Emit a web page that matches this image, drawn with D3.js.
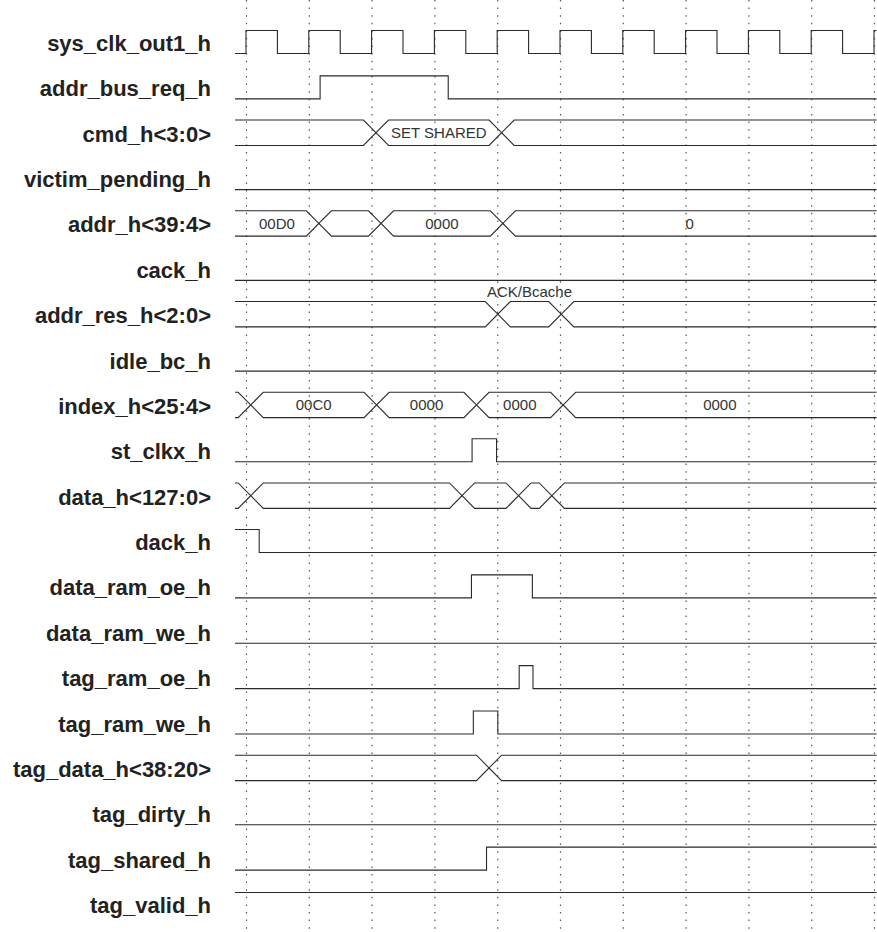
<!DOCTYPE html>
<html>
<head>
<meta charset="utf-8">
<script src="https://cdn.jsdelivr.net/npm/d3@7/dist/d3.min.js"></script>
<style>
  body { margin: 0; background: #fff; }
  svg { display: block; }
</style>
</head>
<body>
<div id="chart"></div>
<script>
// signal names, top to bottom
var signalNames = [
  "sys_clk_out1_h", "addr_bus_req_h", "cmd_h<3:0>", "victim_pending_h",
  "addr_h<39:4>", "cack_h", "addr_res_h<2:0>", "idle_bc_h",
  "index_h<25:4>", "st_clkx_h", "data_h<127:0>", "dack_h",
  "data_ram_oe_h", "data_ram_we_h", "tag_ram_oe_h", "tag_ram_we_h",
  "tag_data_h<38:20>", "tag_dirty_h", "tag_shared_h", "tag_valid_h"
];

// clock cycles where the dotted grid lines sit
var gridCycles = [0, 1, 2, 3, 4, 5, 6, 7, 8, 9, 10];

// time in clock cycles; level signals: start value + toggle times
var clkEdges = [0, 0.5, 1, 1.5, 2, 2.5, 3, 3.5, 4, 4.5, 5, 5.5, 6, 6.5, 7, 7.5, 8, 8.5, 9, 9.5, 10];
var addrBusReqEdges = [1.18, 3.22];
var stClkxEdges = [3.60, 3.99];
var dackEdges = [0.21];
var dataRamOeEdges = [3.59, 4.56];
var tagRamOeEdges = [4.35, 4.57];
var tagRamWeEdges = [3.62, 4.01];
var tagSharedEdges = [3.83];

// bus signals: crossing times and the value shown in each segment
var cmdCross = [2.07, 4.07];
var cmdValues = ["", "SET SHARED", ""];
var addrCross = [1.16, 2.15, 4.09];
var addrValues = ["00D0", "", "0000", "0"];
var addrResCross = [4.01, 5.02];
var addrResValues = ["", "ACK/Bcache", ""];
var indexCross = [0.075, 2.08, 3.67, 5.05];
var indexValues = ["", "00C0", "0000", "0000", "0000"];
var dataCross = [0.075, 3.44, 4.34, 4.87];
var dataValues = ["", "", "", "", ""];
var tagDataCross = [3.87];
var tagDataValues = ["", ""];

var levels = [
  { name: "sys_clk_out1_h", init: 0, edges: clkEdges },
  { name: "addr_bus_req_h", init: 0, edges: addrBusReqEdges },
  { name: "victim_pending_h", init: 0, edges: [] },
  { name: "cack_h", init: 0, edges: [] },
  { name: "idle_bc_h", init: 0, edges: [] },
  { name: "st_clkx_h", init: 0, edges: stClkxEdges },
  { name: "dack_h", init: 1, edges: dackEdges },
  { name: "data_ram_oe_h", init: 0, edges: dataRamOeEdges },
  { name: "data_ram_we_h", init: 0, edges: [] },
  { name: "tag_ram_oe_h", init: 0, edges: tagRamOeEdges },
  { name: "tag_ram_we_h", init: 0, edges: tagRamWeEdges },
  { name: "tag_dirty_h", init: 0, edges: [] },
  { name: "tag_shared_h", init: 0, edges: tagSharedEdges },
  { name: "tag_valid_h", init: 1, edges: [] }
];

var buses = [
  { name: "cmd_h<3:0>", cross: cmdCross, values: cmdValues },
  { name: "addr_h<39:4>", cross: addrCross, values: addrValues },
  { name: "addr_res_h<2:0>", cross: addrResCross, values: addrResValues },
  { name: "index_h<25:4>", cross: indexCross, values: indexValues },
  { name: "data_h<127:0>", cross: dataCross, values: dataValues },
  { name: "tag_data_h<38:20>", cross: tagDataCross, values: tagDataValues }
];

var w = 877, h = 932;
var tStart = -0.175, tEnd = 10.04;
var hw = 0.2;      // half width of a bus transition, in cycles
var amp = 11.5;    // level swing from row centre
var busAmp = 12.7;

var svg = d3.select("body div#chart").append("svg")
    .attr("width", w)
    .attr("height", h);

var x = d3.scaleLinear().domain([0, 10]).range([246, 874]);
var y = d3.scalePoint().domain(signalNames).range([42, 904]);

// dotted grid at every clock rise
var grid = svg.append("g").call(d3.axisBottom(x)
    .tickValues(gridCycles).tickSize(h).tickFormat(""));
grid.select(".domain").remove();
grid.selectAll(".tick line")
    .attr("stroke", "#555")
    .attr("stroke-width", 1.2)
    .attr("stroke-dasharray", "1.5,6.1");

// labels
svg.append("g").selectAll("text").data(signalNames).enter().append("text")
    .attr("x", 211)
    .attr("y", function(d) { return y(d) + 9; })
    .attr("text-anchor", "end")
    .attr("font-family", "'Liberation Sans', Arial, sans-serif")
    .attr("font-weight", "bold")
    .attr("font-size", "22px")
    .attr("fill", "#222")
    .text(function(d) { return d; });

// level waveforms
var stepLine = d3.line()
    .x(function(p) { return x(p.t); })
    .y(function(p) { return p.y; })
    .curve(d3.curveStepAfter);

levels.forEach(function(s) {
  var c = y(s.name);
  var v = s.init;
  var lv = function(v) { return v ? c - amp : c + amp; };
  var pts = [{ t: tStart, y: lv(v) }];
  s.edges.forEach(function(e) {
    v = 1 - v;
    pts.push({ t: e, y: lv(v) });
  });
  pts.push({ t: tEnd, y: lv(v) });
  svg.append("path")
      .attr("d", stepLine(pts))
      .attr("fill", "none")
      .attr("stroke", "#2a2a2a")
      .attr("stroke-width", 1.1);
});

// bus waveforms
var polyLine = d3.line()
    .x(function(p) { return x(p[0]); })
    .y(function(p) { return p[1]; });

buses.forEach(function(b) {
  var c = y(b.name), top = c - busAmp, bot = c + busAmp;
  var bounds = [tStart].concat(b.cross, [tEnd]);
  var g = svg.append("g");
  b.values.forEach(function(val, i) {
    var a = bounds[i], e = bounds[i + 1];
    var first = i === 0, last = i === b.values.length - 1;
    var pts;
    if (first && last) {
      pts = [[a, top], [e, top]];
    } else if (first) {
      pts = [[a, top], [e - hw, top], [e, c], [e - hw, bot], [a, bot]];
    } else if (last) {
      pts = [[e, top], [a + hw, top], [a, c], [a + hw, bot], [e, bot]];
    } else {
      pts = [[a, c], [a + hw, top], [e - hw, top], [e, c], [e - hw, bot], [a + hw, bot], [a, c]];
    }
    g.append("path")
        .attr("d", polyLine(pts))
        .attr("fill", "none")
        .attr("stroke", "#2a2a2a")
        .attr("stroke-width", 1.1);
    if (val) {
      var t = g.append("text")
          .attr("x", x((a + e) / 2))
          .attr("y", c + 5.5)
          .attr("text-anchor", "middle")
          .attr("font-family", "'Liberation Sans', Arial, sans-serif")
          .attr("font-size", "15px")
          .attr("fill", "#333")
          .text(val);
      // too wide for the segment: put it above the bus
      if (t.node().getComputedTextLength() > x(e) - x(a) - 10) {
        t.attr("y", top - 4.5);
      }
    }
  });
});
</script>
</body>
</html>
